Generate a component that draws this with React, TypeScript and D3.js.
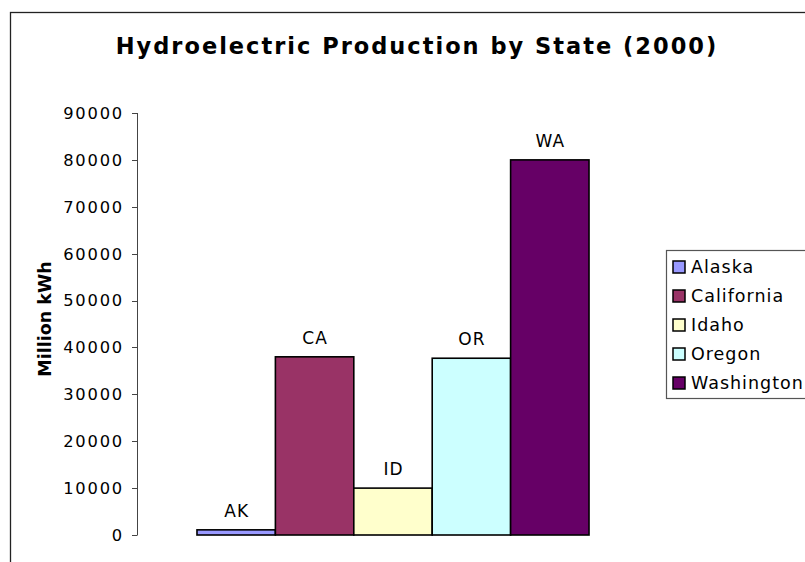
import React from "react";
import * as d3 from "d3";

const TITLE = "Hydroelectric Production by State (2000)";
const Y_TITLE = "Million kWh";
const CATEGORY = ["2000"];
const STATES = ["Alaska", "California", "Idaho", "Oregon", "Washington"];
const ABBR = ["AK", "CA", "ID", "OR", "WA"];
const VALUES = [1100, 38000, 10000, 37700, 80000];
const COLORS = ["#9999FF", "#993366", "#FFFFCC", "#CCFFFF", "#660066"];
const Y_TICKS = [0, 10000, 20000, 30000, 40000, 50000, 60000, 70000, 80000, 90000];

const W = 805;
const H = 562;
const FONT = "'DejaVu Sans', Verdana, sans-serif";

export default function App() {
  const y = d3.scaleLinear().domain([0, 90000]).range([535, 113]);
  const xOuter = d3.scaleBand<string>().domain(CATEGORY).range([137, 649]).paddingInner(0).paddingOuter(0.153);
  const xInner = d3.scaleBand<string>().domain(STATES).range([0, xOuter.bandwidth()]).padding(0);
  const legendY = d3.scalePoint<string>().domain(STATES).range([267, 383]);
  const x0 = xOuter(CATEGORY[0]) as number;

  return (
    <div style={{ position: "fixed", left: 0, top: 0, width: W, height: H, background: "#fff" }}>
      <svg width={W} height={H} style={{ display: "block", fontFamily: FONT }}>
        <rect x={0} y={0} width={W} height={H} fill="#fff" />
        <rect x={10.5} y={12.5} width={W + 20} height={H + 20} fill="none" stroke="#222" strokeWidth={1.3} />
        <text x={417} y={54} textAnchor="middle" fontSize={22.5} fontWeight="bold" letterSpacing={2} fill="#000">
          {TITLE}
        </text>
        {/* y axis */}
        <line x1={137.5} x2={137.5} y1={y(90000)} y2={y(0)} stroke="#444" strokeWidth={1} />
        {Y_TICKS.map((t) => (
          <g key={t}>
            <line x1={132} x2={137.5} y1={Math.round(y(t)) + 0.5} y2={Math.round(y(t)) + 0.5} stroke="#444" strokeWidth={1} />
            <text
              x={124}
              y={y(t)}
              dy="0.36em"
              textAnchor="end"
              fontSize={16.3}
              letterSpacing={1.8}
              fill="#000"
            >
              {t}
            </text>
          </g>
        ))}
        <text
          transform={`translate(51,319) rotate(-90)`}
          textAnchor="middle"
          fontSize={17.5}
          fontWeight="bold"
          fill="#000"
        >
          {Y_TITLE}
        </text>
        {/* bars */}
        {STATES.map((s, i) => {
          const bx = x0 + (xInner(s) as number);
          const top = y(VALUES[i]);
          return (
            <g key={s}>
              <rect
                x={bx}
                y={top}
                width={xInner.bandwidth()}
                height={y(0) - top}
                fill={COLORS[i]}
                stroke="#000"
                strokeWidth={1.6}
              />
              <text
                x={bx + xInner.bandwidth() / 2 + 0.5}
                y={top - 13}
                textAnchor="middle"
                fontSize={17}
                letterSpacing={1}
                fill="#000"
              >
                {ABBR[i]}
              </text>
            </g>
          );
        })}
        {/* legend */}
        <rect x={666.5} y={250.5} width={W} height={148} fill="#fff" stroke="#555" strokeWidth={1.2} />
        {STATES.map((s, i) => {
          const cy = legendY(s) as number;
          return (
            <g key={s}>
              <rect x={673} y={cy - 6} width={12} height={12} fill={COLORS[i]} stroke="#000" strokeWidth={1.5} />
              <text x={691} y={cy} dy="0.36em" fontSize={17.5} letterSpacing={1} fill="#000">
                {s}
              </text>
            </g>
          );
        })}
      </svg>
    </div>
  );
}
